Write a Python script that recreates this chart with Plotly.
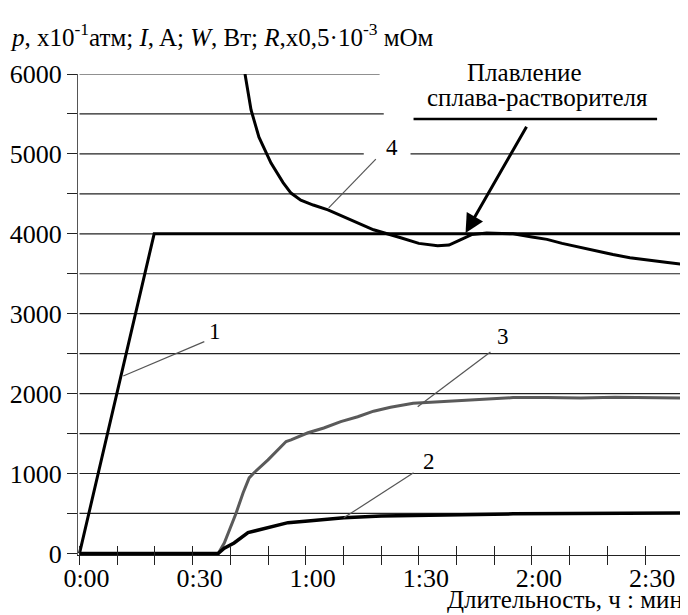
import plotly.graph_objects as go

# ---- data (time in minutes, values in chart units) ----
t1 = [0, 19.8, 161.4]
v1 = [0, 4000, 4000]

t2 = [0, 36.8, 38.4, 41.0, 44.7, 50.0, 55.3, 60.6, 70.1, 80, 90, 100, 115, 130, 145, 161.4]
v2 = [0, 0, 65, 130, 260, 320, 385, 405, 445, 468, 478, 485, 495, 500, 503, 505]

t3 = [0, 36.8, 38.4, 41.5, 43.4, 45.0, 46.3, 50.0, 54.8, 56.1, 60.6, 64.8, 69.3, 73.8, 78,
      82.5, 88.5, 97, 106, 115, 124, 133, 142, 151, 161.4]
v3 = [0, 0, 130, 500, 760, 945, 1010, 1170, 1400, 1420, 1510, 1570, 1650, 1710, 1780,
      1830, 1880, 1900, 1920, 1950, 1950, 1945, 1955, 1950, 1945]

t4 = [43.9, 45.5, 47.6, 50.8, 54.0, 56.1, 58.7, 62, 65.9, 72.0, 78.0, 85.2, 90, 95, 98, 101,
      104, 108, 115, 120, 124, 128, 132.8, 137, 141.5, 146, 150.5, 156, 161.4]
v4 = [6000, 5550, 5210, 4885, 4640, 4510, 4420, 4360, 4300, 4170, 4050, 3950, 3880, 3850,
      3860, 3925, 3990, 4010, 4000, 3960, 3930, 3880, 3830, 3780, 3740, 3700, 3670, 3640, 3610]

x_tickvals = [0, 30, 60, 90, 120, 150]
x_ticktext = ["0:00", "0:30", "1:00", "1:30", "2:00", "2:30"]
x_minor_step = 10
y_tickvals = [0, 1000, 2000, 3000, 4000, 5000, 6000]
y_ticktext = ["0", "1000", "2000", "3000", "4000", "5000", "6000"]
y_minor_step = 500

curve_labels = ["1", "2", "3", "4"]

X_MAX = 161.4
FONT = "Liberation Serif, Times New Roman, DejaVu Serif, serif"

fig = go.Figure()

styles = [
    (t1, v1, "#000000", 3),
    (t3, v3, "#5a5a5a", 3),
    (t4, v4, "#000000", 3),
    (t2, v2, "#000000", 3.5),
]
for t, v, c, w in styles:
    fig.add_trace(go.Scatter(x=t, y=v, mode="lines", line=dict(color=c, width=w),
                             showlegend=False, hoverinfo="skip"))

# invisible trace on the overlay axis (for the crossing tick marks)
fig.add_trace(go.Scatter(x=t1, y=v1, xaxis="x2", mode="lines", opacity=0,
                         line=dict(width=0), showlegend=False, hoverinfo="skip"))

# ---- gridlines (every minor y step, some interrupted by the labels) ----
shapes = []
grid_style = dict(color="#222222", width=1.2)
gaps = {6000: [(0, 79.6)], 5500: [(0, 80.7)], 5000: [(0, 75.4), (87.8, X_MAX)]}
for yv in range(y_minor_step, y_tickvals[-1] + 1, y_minor_step):
    for a, b in gaps.get(yv, [(0, X_MAX)]):
        shapes.append(dict(type="line", xref="x", yref="y", x0=a, x1=b, y0=yv, y1=yv,
                           line=grid_style, layer="below"))

# annotation underline
shapes.append(dict(type="line", xref="x", yref="y", x0=88.6, x1=153.2, y0=5438, y1=5438,
                   line=dict(color="#000000", width=2.5)))

# leader lines
leaders = [
    ((11.6, 2220), (33.1, 2650)),
    ((70.1, 445), (88.6, 1010)),
    ((89.7, 1835), (109.0, 2520)),
    ((66.1, 4325), (78.6, 4935)),
]
for (xa, ya), (xb, yb) in leaders:
    shapes.append(dict(type="line", xref="x", yref="y", x0=xa, y0=ya, x1=xb, y1=yb,
                       line=dict(color="#555555", width=1.2)))

label_pos = [(36.0, 2780), (92.6, 1150), (112.4, 2710), (83.0, 5075)]
annotations = []
for lab, (xl, yl) in zip(curve_labels, label_pos):
    annotations.append(dict(x=xl, y=yl, xref="x", yref="y", text=lab, showarrow=False,
                            font=dict(family=FONT, size=23, color="#000000")))

annotations.append(dict(x=118.0, y=1.004, xref="x", yref="paper", yanchor="middle",
                        text="Плавление", showarrow=False,
                        font=dict(family=FONT, size=25, color="#000000")))
annotations.append(dict(x=121.4, y=0.952, xref="x", yref="paper", yanchor="middle",
                        text="сплава-растворителя", showarrow=False,
                        font=dict(family=FONT, size=25, color="#000000")))

# arrow
annotations.append(dict(x=102.4, y=4010, ax=118.8, ay=5360, xref="x", yref="y",
                        axref="x", ayref="y", text="", showarrow=True, arrowhead=2,
                        arrowsize=1.25, arrowwidth=3, arrowcolor="#000000"))

# x axis title
annotations.append(dict(x=1, y=0, xref="paper", yref="paper", xanchor="right",
                        yanchor="bottom", xshift=-3, yshift=-60,
                        text="Длительность, ч : мин", showarrow=False,
                        font=dict(family=FONT, size=25, color="#000000")))

title_text = ("<i>p</i>, x10<sup>-1</sup>атм; <i>I</i>, A; <i>W</i>, Вт; "
              "<i>R</i>,x0,5·10<sup>-3</sup> мОм")

tick_style = dict(ticklen=9, tickwidth=1, tickcolor="#222222")

W, H = 680, 607
fig.update_layout(
    width=W, height=H,
    margin=dict(l=70, r=0, t=66, b=60),
    paper_bgcolor="white", plot_bgcolor="white",
    title=dict(text=title_text, x=4 / W, xanchor="left", y=1 - 29 / H,
               yanchor="middle", yref="container",
               font=dict(family=FONT, size=25, color="#000000")),
    shapes=shapes,
    annotations=annotations,
    xaxis=dict(range=[-0.4, X_MAX], tickmode="array", tickvals=x_tickvals,
               ticktext=x_ticktext, ticks="inside", **tick_style,
               minor=dict(ticks="inside", dtick=x_minor_step, tick0=0, **tick_style),
               showline=True, linecolor="#222222", linewidth=1, showgrid=False,
               zeroline=False, ticklabelshift=7, ticklabelstandoff=0,
               tickfont=dict(family=FONT, size=26, color="#000000")),
    xaxis2=dict(range=[-0.4, X_MAX], overlaying="x", anchor="y", side="bottom",
                tickmode="linear", tick0=0, dtick=x_minor_step, showticklabels=False,
                ticks="outside", **tick_style,
                showline=False, showgrid=False, zeroline=False),
    yaxis=dict(range=[-20, 6000], tickmode="array", tickvals=y_tickvals,
               ticktext=y_ticktext, ticks="outside", ticklen=10, tickwidth=1,
               tickcolor="#222222",
               minor=dict(ticks="outside", dtick=y_minor_step, tick0=0, ticklen=10,
                          tickwidth=1, tickcolor="#222222"),
               showline=True, linecolor="#555555", linewidth=1, showgrid=False,
               zeroline=False,
               tickfont=dict(family=FONT, size=26, color="#000000")),
)

fig.write_html("out.html")
